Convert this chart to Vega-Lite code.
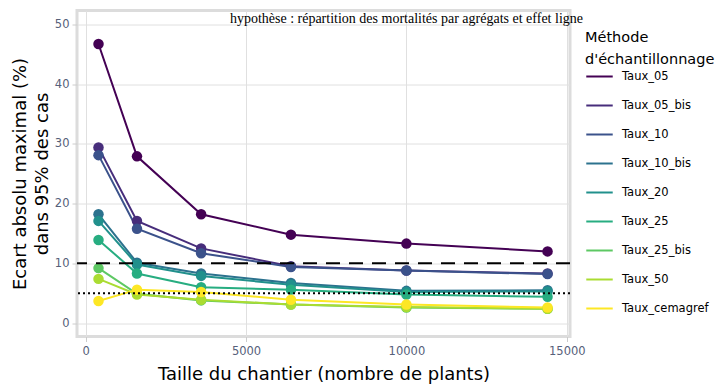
{
  "$schema": "https://vega.github.io/schema/vega-lite/v6.json",
  "autosize": {"type": "none"},
  "width": 493,
  "height": 326,
  "padding": {"left": 77, "top": 10.5, "right": 154, "bottom": 52.5},
  "title": {
    "text": "hypothèse : répartition des mortalités par agrégats et effet ligne",
    "font": "Liberation Serif",
    "fontSize": 14,
    "fontWeight": "normal",
    "color": "#000000",
    "anchor": "end",
    "frame": "group",
    "dx": 13,
    "dy": 19
  },
  "config": {
    "view": {"stroke": "#dcdcdc", "strokeWidth": 3},
    "axis": {
      "gridColor": "#e0e0e0",
      "gridWidth": 1,
      "domain": false,
      "tickColor": "#cccccc",
      "tickSize": 5,
      "labelFont": "DejaVu Sans",
      "labelFontSize": 11.5,
      "labelColor": "#56607a",
      "titleFont": "DejaVu Sans",
      "titleFontSize": 18,
      "titleFontWeight": "normal",
      "titleColor": "#000000"
    },
    "legend": {
      "titleFont": "DejaVu Sans",
      "titleFontSize": 14.5,
      "titleFontWeight": "normal",
      "titleColor": "#000000",
      "titleLimit": 200,
      "labelFont": "DejaVu Sans",
      "labelFontSize": 11.5,
      "labelColor": "#000000"
    }
  },
  "datasets": {
    "series": [
      {"methode": "Taux_05", "taille": 400, "ecart": 46.7},
      {"methode": "Taux_05", "taille": 1600, "ecart": 27.9},
      {"methode": "Taux_05", "taille": 3600, "ecart": 18.2},
      {"methode": "Taux_05", "taille": 6400, "ecart": 14.8},
      {"methode": "Taux_05", "taille": 10000, "ecart": 13.3},
      {"methode": "Taux_05", "taille": 14400, "ecart": 12.0},
      {"methode": "Taux_05_bis", "taille": 400, "ecart": 29.4},
      {"methode": "Taux_05_bis", "taille": 1600, "ecart": 17.1},
      {"methode": "Taux_05_bis", "taille": 3600, "ecart": 12.5},
      {"methode": "Taux_05_bis", "taille": 6400, "ecart": 9.5},
      {"methode": "Taux_05_bis", "taille": 10000, "ecart": 8.8},
      {"methode": "Taux_05_bis", "taille": 14400, "ecart": 8.3},
      {"methode": "Taux_10", "taille": 400, "ecart": 28.1},
      {"methode": "Taux_10", "taille": 1600, "ecart": 15.8},
      {"methode": "Taux_10", "taille": 3600, "ecart": 11.7},
      {"methode": "Taux_10", "taille": 6400, "ecart": 9.4},
      {"methode": "Taux_10", "taille": 10000, "ecart": 8.8},
      {"methode": "Taux_10", "taille": 14400, "ecart": 8.2},
      {"methode": "Taux_10_bis", "taille": 400, "ecart": 18.2},
      {"methode": "Taux_10_bis", "taille": 1600, "ecart": 10.1},
      {"methode": "Taux_10_bis", "taille": 3600, "ecart": 8.3},
      {"methode": "Taux_10_bis", "taille": 6400, "ecart": 6.7},
      {"methode": "Taux_10_bis", "taille": 10000, "ecart": 5.4},
      {"methode": "Taux_10_bis", "taille": 14400, "ecart": 5.5},
      {"methode": "Taux_20", "taille": 400, "ecart": 17.1},
      {"methode": "Taux_20", "taille": 1600, "ecart": 9.8},
      {"methode": "Taux_20", "taille": 3600, "ecart": 7.9},
      {"methode": "Taux_20", "taille": 6400, "ecart": 6.4},
      {"methode": "Taux_20", "taille": 10000, "ecart": 5.2},
      {"methode": "Taux_20", "taille": 14400, "ecart": 5.3},
      {"methode": "Taux_25", "taille": 400, "ecart": 13.9},
      {"methode": "Taux_25", "taille": 1600, "ecart": 8.3},
      {"methode": "Taux_25", "taille": 3600, "ecart": 6.0},
      {"methode": "Taux_25", "taille": 6400, "ecart": 5.6},
      {"methode": "Taux_25", "taille": 10000, "ecart": 4.8},
      {"methode": "Taux_25", "taille": 14400, "ecart": 4.4},
      {"methode": "Taux_25_bis", "taille": 400, "ecart": 9.2},
      {"methode": "Taux_25_bis", "taille": 1600, "ecart": 4.9},
      {"methode": "Taux_25_bis", "taille": 3600, "ecart": 3.8},
      {"methode": "Taux_25_bis", "taille": 6400, "ecart": 3.1},
      {"methode": "Taux_25_bis", "taille": 10000, "ecart": 2.6},
      {"methode": "Taux_25_bis", "taille": 14400, "ecart": 2.4},
      {"methode": "Taux_50", "taille": 400, "ecart": 7.4},
      {"methode": "Taux_50", "taille": 1600, "ecart": 4.8},
      {"methode": "Taux_50", "taille": 3600, "ecart": 3.9},
      {"methode": "Taux_50", "taille": 6400, "ecart": 3.1},
      {"methode": "Taux_50", "taille": 10000, "ecart": 2.7},
      {"methode": "Taux_50", "taille": 14400, "ecart": 2.4},
      {"methode": "Taux_cemagref", "taille": 400, "ecart": 3.7},
      {"methode": "Taux_cemagref", "taille": 1600, "ecart": 5.6},
      {"methode": "Taux_cemagref", "taille": 3600, "ecart": 5.2},
      {"methode": "Taux_cemagref", "taille": 6400, "ecart": 3.9},
      {"methode": "Taux_cemagref", "taille": 10000, "ecart": 3.1},
      {"methode": "Taux_cemagref", "taille": 14400, "ecart": 2.6}
    ],
    "seuils": [
      {"seuil": 10, "type": "dash"},
      {"seuil": 5, "type": "dot"}
    ]
  },
  "layer": [
    {
      "data": {"name": "series"},
      "mark": {"type": "line", "strokeWidth": 2, "point": {"filled": true, "size": 110, "opacity": 1}},
      "encoding": {
        "x": {
          "field": "taille", "type": "quantitative",
          "scale": {"domain": [-270, 15100], "nice": false, "zero": false},
          "axis": {"values": [0, 5000, 10000, 15000], "format": "d", "title": "Taille du chantier (nombre de plants)", "labelPadding": 4, "titlePadding": 8, "labelFlush": false}
        },
        "y": {
          "field": "ecart", "type": "quantitative",
          "scale": {"domain": [-2.24, 52.3], "nice": false, "zero": false},
          "axis": {"values": [0, 10, 20, 30, 40, 50], "title": ["Ecart absolu maximal (%)", "dans 95% des cas"], "titleLineHeight": 22, "labelPadding": 3, "titlePadding": 3, "labelFlush": false}
        },
        "color": {
          "field": "methode", "type": "nominal",
          "scale": {"range": ["#440154", "#472D7B", "#3B528B", "#2C728E", "#21908C", "#27AD81", "#5DC863", "#AADC32", "#FDE725"]},
          "legend": {
            "title": ["Méthode", "d'échantillonnage"],
            "orient": "none",
            "legendX": 508,
            "legendY": 20,
            "symbolType": "stroke",
            "symbolSize": 700,
            "symbolStrokeWidth": 2,
            "rowPadding": 9,
            "labelOffset": 8,
            "titlePadding": -5,
            "titleLineHeight": 22
          }
        }
      }
    },
    {
      "data": {"name": "seuils"},
      "transform": [{"filter": "datum.type === 'dash'"}],
      "mark": {"type": "rule", "color": "#000000", "strokeWidth": 2, "strokeDash": [14, 9]},
      "encoding": {"y": {"field": "seuil", "type": "quantitative"}}
    },
    {
      "data": {"name": "seuils"},
      "transform": [{"filter": "datum.type === 'dot'"}],
      "mark": {"type": "rule", "color": "#000000", "strokeWidth": 2, "strokeDash": [2, 3]},
      "encoding": {"y": {"field": "seuil", "type": "quantitative"}}
    }
  ]
}
